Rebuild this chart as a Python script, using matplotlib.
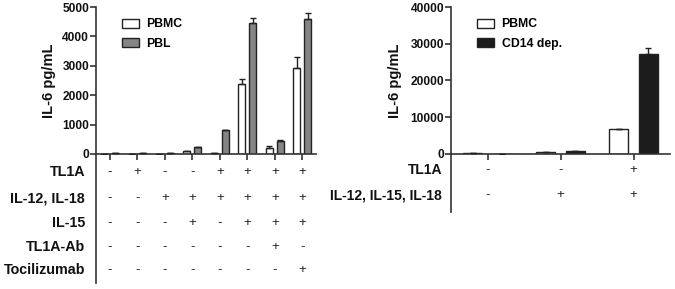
import numpy as np
from matplotlib import pyplot as plt

plt.rcParams['font.family'] = ['Liberation Sans', 'DejaVu Sans']
plt.rcParams['font.weight'] = 'bold'

# left panel data
pbmc_l = [15, 15, 8, 100, 50, 2380, 200, 2930]
pbmc_l_err = [0, 0, 0, 0, 0, 170, 60, 380]
pbl_l = [20, 20, 40, 230, 800, 4450, 450, 4600]
pbl_l_err = [0, 0, 0, 10, 10, 190, 20, 190]
rows_l = ['TL1A', 'IL-12, IL-18', 'IL-15', 'TL1A-Ab', 'Tocilizumab']
signs_l = [
    '-+--++++',
    '--++++++',
    '---+-+++',
    '------+-',
    '-------+',
]

# right panel data
pbmc_r = [150, 500, 6700]
pbmc_r_err = [0, 0, 150]
cd14_r = [0, 700, 27200]
cd14_r_err = [0, 0, 1700]
rows_r = ['TL1A', 'IL-12, IL-15, IL-18']
signs_r = ['--+', '-++']

fig = plt.figure(figsize=(6.75, 2.89), dpi=100)
ax1 = fig.add_axes([96 / 675, 1 - 154 / 289, 220 / 675, 147 / 289])
ax2 = fig.add_axes([451 / 675, 1 - 154 / 289, 219 / 675, 147 / 289])

axcol = '#333333'
w = 0.26
off = 0.2


def draw(ax, a, a_err, b, b_err, col_b, lab_a, lab_b, ymax, yticks):
    x = np.arange(len(a))
    ax.bar(x - off, a, w, color='white', edgecolor='#222222', linewidth=1.0,
           label=lab_a, zorder=2)
    ax.bar(x + off, b, w, color=col_b, edgecolor='#222222', linewidth=1.0,
           label=lab_b, zorder=2)
    ax.errorbar(x - off, a, yerr=[np.zeros(len(a)), a_err], fmt='none',
                ecolor='#222222', elinewidth=1.0, capsize=2.5, zorder=3)
    ax.errorbar(x + off, b, yerr=[np.zeros(len(b)), b_err], fmt='none',
                ecolor='#222222', elinewidth=1.0, capsize=2.5, zorder=3)
    ax.set_xlim(-0.5, len(a) - 0.5)
    ax.set_ylim(0, ymax)
    ax.set_yticks(yticks)
    ax.set_xticks(x)
    ax.set_xticklabels([])
    for s in ['top', 'right']:
        ax.spines[s].set_visible(False)
    for s in ['left', 'bottom']:
        ax.spines[s].set_color(axcol)
        ax.spines[s].set_linewidth(1.2)
    ax.tick_params(colors=axcol, width=1.2, length=4, labelsize=8.6,
                   labelcolor='#111111')
    ax.tick_params(axis='y', pad=1)
    ax.set_ylabel('IL-6 pg/mL', fontsize=10.5, fontweight='bold', color='#111111')
    ax.legend(loc='upper left', bbox_to_anchor=(0.08, 0.98), frameon=False,
              fontsize=8.8, handlelength=1.4, handleheight=0.75,
              borderaxespad=0.3, labelspacing=0.6, handletextpad=0.6)
    return x


x1 = draw(ax1, pbmc_l, pbmc_l_err, pbl_l, pbl_l_err, '#858585', 'PBMC', 'PBL',
          5000, [0, 1000, 2000, 3000, 4000, 5000])
x2 = draw(ax2, pbmc_r, pbmc_r_err, cd14_r, cd14_r_err, '#1c1c1c', 'PBMC',
          'CD14 dep.', 40000, [0, 10000, 20000, 30000, 40000])
ax1.yaxis.set_label_coords(-0.18, 0.5)
ax2.yaxis.set_label_coords(-0.225, 0.5)

# condition tables below the axes
ry_l = [-0.122, -0.30, -0.47, -0.633, -0.79]
for r, (name, sg) in enumerate(zip(rows_l, signs_l)):
    ax1.text(-0.05, ry_l[r], name, transform=ax1.transAxes, ha='right',
             va='center', fontsize=10.3, fontweight='bold', color='#111111')
    for i, c in enumerate(sg):
        ax1.text(x1[i], ry_l[r], c, transform=ax1.get_xaxis_transform(),
                 ha='center', va='center', fontsize=9.5, fontweight='normal',
                 color='#222222')
ax1.plot([0, 0], [0, -0.878], transform=ax1.transAxes, clip_on=False,
         color=axcol, lw=1.2)

ry_r = [-0.109, -0.279]
for r, (name, sg) in enumerate(zip(rows_r, signs_r)):
    ax2.text(-0.041, ry_r[r], name, transform=ax2.transAxes, ha='right',
             va='center', fontsize=10.0, fontweight='bold', color='#111111')
    for i, c in enumerate(sg):
        ax2.text(x2[i], ry_r[r], c, transform=ax2.get_xaxis_transform(),
                 ha='center', va='center', fontsize=9.5, fontweight='normal',
                 color='#222222')
ax2.plot([0, 0], [0, -0.395], transform=ax2.transAxes, clip_on=False,
         color=axcol, lw=1.2)

fig.savefig('out.png', dpi=100)
